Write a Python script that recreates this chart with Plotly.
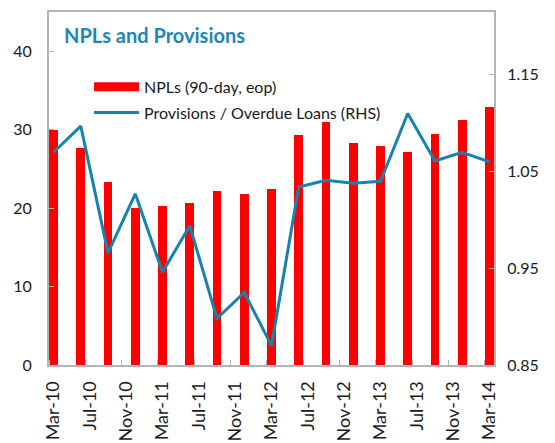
import plotly.graph_objects as go

# Quarterly observations, Mar-10 .. Mar-14
quarters = ["Mar-10", "Jun-10", "Sep-10", "Dec-10", "Mar-11", "Jun-11", "Sep-11", "Dec-11",
            "Mar-12", "Jun-12", "Sep-12", "Dec-12", "Mar-13", "Jun-13", "Sep-13", "Dec-13", "Mar-14"]
npls = [30.0, 27.7, 23.3, 20.0, 20.3, 20.6, 22.2, 21.8, 22.4, 29.3, 31.0, 28.3, 27.9, 27.2, 29.5, 31.2, 32.9]
provisions = [1.070, 1.097, 0.966, 1.027, 0.946, 0.994, 0.898, 0.925, 0.870, 1.034, 1.041, 1.038,
              1.040, 1.110, 1.061, 1.070, 1.060]
tick_labels = ["Mar-10", "Jul-10", "Nov-10", "Mar-11", "Jul-11", "Nov-11", "Mar-12",
               "Jul-12", "Nov-12", "Mar-13", "Jul-13", "Nov-13", "Mar-14"]
left_ticks = [0, 10, 20, 30, 40]
right_ticks = [0.85, 0.95, 1.05, 1.15]

# month index (mid-month) for each quarter
x_months = [3 * i + 0.5 for i in range(len(quarters))]
tick_pos = [4 * i + 0.5 for i in range(len(tick_labels))]
minor_pos = [4 * i for i in range(len(tick_labels))]

RED = "#FF0000"
TEAL = "#1484AE"
GRID = "#B4B4B4"
FONT = "Lato"

fig = go.Figure()
fig.add_trace(go.Bar(x=x_months, y=npls, width=0.98, marker=dict(color=RED, line=dict(width=0)),
                     showlegend=False, yaxis="y", hovertext=quarters))
fig.add_trace(go.Scatter(x=x_months, y=provisions, mode="lines", line=dict(color=TEAL, width=3),
                         showlegend=False, yaxis="y2", hovertext=quarters))
# legend entries
fig.add_trace(go.Scatter(x=[None], y=[None], mode="lines", line=dict(color=RED, width=9),
                         name="NPLs (90-day, eop)", legendgroup="a"))
fig.add_trace(go.Scatter(x=[None], y=[None], mode="lines", line=dict(color=TEAL, width=3),
                         name="Provisions / Overdue Loans (RHS)", legendgroup="b", yaxis="y2"))

fig.update_layout(
    width=547, height=435,
    margin=dict(l=41, r=61, t=2, b=77),
    paper_bgcolor="white", plot_bgcolor="white",
    font=dict(family=FONT, size=16, color="#1a1a1a"),
    bargap=0,
    xaxis=dict(range=[0, 49], tickmode="array", tickvals=tick_pos, ticktext=tick_labels,
               tickangle=-90, ticks="", showgrid=False, zeroline=False,
               showline=True, linecolor=GRID, linewidth=2, mirror=True,
               tickfont=dict(size=18), ticklabelstandoff=7,
               minor=dict(tickmode="array", tickvals=minor_pos, ticks="inside", ticklen=5,
                          tickcolor=GRID, tickwidth=1, showgrid=False)),
    yaxis=dict(range=[0, 45], tickvals=left_ticks, ticks="inside", ticklen=5, tickcolor=GRID,
               showgrid=False, zeroline=False, showline=True, linecolor=GRID, linewidth=2,
               tickfont=dict(size=16), ticklabelstandoff=12),
    yaxis2=dict(range=[0.85, 1.215], overlaying="y", side="right", tickvals=right_ticks,
                ticktext=["0.85", "0.95", "1.05", "1.15"], ticks="inside", ticklen=5,
                tickcolor=GRID, showgrid=False, zeroline=False, showline=True, linecolor=GRID,
                linewidth=2, tickfont=dict(size=16), ticklabelstandoff=8),
    legend=dict(x=0.09, y=0.836, xanchor="left", yanchor="top", bgcolor="rgba(0,0,0,0)",
                font=dict(size=16), traceorder="grouped", tracegroupgap=2, itemwidth=45),
    annotations=[dict(text="<b>NPLs and Provisions</b>", xref="paper", yref="paper",
                      x=0.029, y=0.936, xanchor="left", yanchor="middle", showarrow=False,
                      font=dict(size=20, color="#1E87B5", family=FONT))],
)

fig.write_html("out.html")
